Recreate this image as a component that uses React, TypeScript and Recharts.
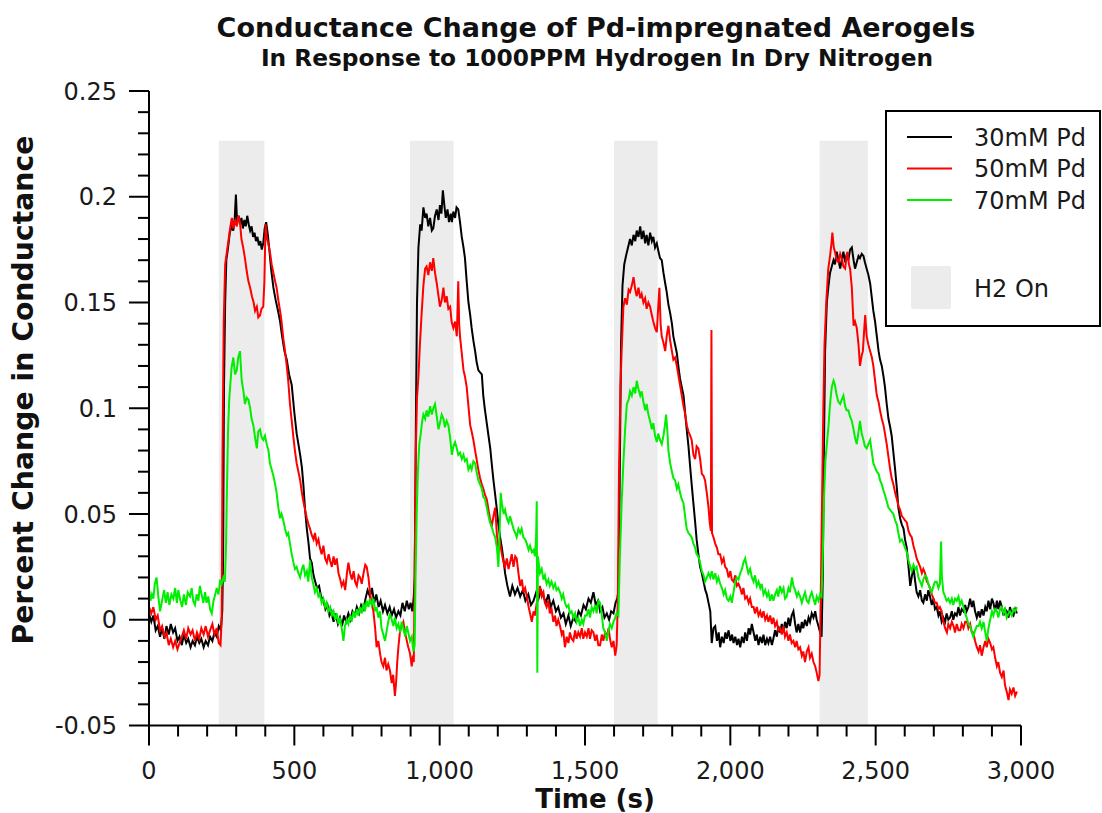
import { LineChart, Line, XAxis, YAxis, ReferenceArea } from "recharts";

const W = 1102;
const H = 813;
const FONT = '"DejaVu Sans", Verdana, sans-serif';

// H2 exposure windows (s)
const h2Start = [240, 898, 1600, 2307];
const h2End = [397, 1048, 1750, 2473];
const h2Top = 0.2265;

const xMajor = [0, 500, 1000, 1500, 2000, 2500, 3000];
const yMajor = [-0.05, 0, 0.05, 0.1, 0.15, 0.2, 0.25];
const xTicks = Array.from({ length: 31 }, (_, i) => i * 100);
const yTicks = Array.from({ length: 31 }, (_, i) => Math.round((-0.05 + i * 0.01) * 1000) / 1000);

// [time (s), percent change]
const pd30: [number, number][] = [
  [0, 0.003], [8, -0.001], [15, 0.002], [23, -0.005], [30, -0.003], [38, -0.008], [45, -0.004], [53, -0.009],
  [60, -0.003], [68, -0.007], [75, -0.002], [83, -0.006], [90, -0.004], [98, -0.01], [105, -0.008], [113, -0.012],
  [120, -0.007], [128, -0.011], [135, -0.009], [143, -0.013], [150, -0.01], [158, -0.012], [165, -0.008], [173, -0.011],
  [180, -0.009], [188, -0.013], [195, -0.01], [203, -0.012], [210, -0.008], [218, -0.01], [225, -0.006], [233, -0.008],
  [240, -0.003], [247, -0.005], [252, 0.004], [255, 0.03], [258, 0.11], [262, 0.15], [266, 0.17], [272, 0.176],
  [278, 0.183], [284, 0.186], [290, 0.184], [295, 0.19], [299, 0.201], [303, 0.188], [308, 0.191], [313, 0.187],
  [318, 0.19], [323, 0.185], [328, 0.189], [333, 0.186], [338, 0.191], [343, 0.187], [348, 0.184], [353, 0.186],
  [358, 0.181], [363, 0.183], [368, 0.179], [373, 0.181], [378, 0.177], [383, 0.179], [388, 0.175], [393, 0.178],
  [398, 0.185], [403, 0.188], [408, 0.183], [414, 0.175], [420, 0.166], [428, 0.157], [436, 0.151], [444, 0.146],
  [451, 0.141], [458, 0.134], [466, 0.127], [474, 0.123], [482, 0.116], [491, 0.111], [500, 0.098], [508, 0.088],
  [514, 0.083], [520, 0.078], [526, 0.072], [531, 0.064], [537, 0.052], [543, 0.043], [549, 0.036], [554, 0.029],
  [560, 0.027], [566, 0.021], [572, 0.018], [578, 0.015], [585, 0.016], [592, 0.011], [600, 0.009], [607, 0.005],
  [614, 0.007], [621, 0.002], [628, 0.004], [635, -0.001], [642, 0.003], [650, -0.002], [657, 0.001], [664, -0.003],
  [671, 0.002], [678, -0.001], [686, 0.003], [693, 0.0], [700, 0.004], [708, 0.002], [715, 0.006], [723, 0.003],
  [730, 0.007], [738, 0.005], [745, 0.01], [752, 0.014], [760, 0.011], [767, 0.015], [775, 0.008], [782, 0.012],
  [790, 0.006], [797, 0.009], [805, 0.004], [812, 0.007], [820, 0.003], [828, 0.006], [835, 0.002], [843, 0.005],
  [850, 0.001], [858, 0.004], [865, 0.002], [872, 0.008], [880, 0.004], [887, 0.009], [894, 0.005], [900, 0.008],
  [906, 0.004], [911, 0.011], [914, 0.02], [918, 0.09], [922, 0.15], [927, 0.176], [933, 0.187], [938, 0.184],
  [944, 0.195], [950, 0.19], [955, 0.192], [961, 0.186], [967, 0.19], [973, 0.184], [978, 0.185], [984, 0.191],
  [990, 0.194], [996, 0.189], [1001, 0.196], [1006, 0.192], [1011, 0.203], [1016, 0.196], [1021, 0.19], [1027, 0.194],
  [1032, 0.188], [1038, 0.192], [1042, 0.188], [1047, 0.193], [1053, 0.19], [1058, 0.195], [1064, 0.194], [1070, 0.188],
  [1076, 0.181], [1082, 0.176], [1087, 0.171], [1093, 0.16], [1099, 0.15], [1105, 0.144], [1110, 0.138], [1116, 0.132],
  [1122, 0.127], [1127, 0.122], [1133, 0.118], [1139, 0.117], [1145, 0.116], [1150, 0.106], [1156, 0.099], [1162, 0.093],
  [1168, 0.087], [1174, 0.081], [1179, 0.074], [1185, 0.066], [1191, 0.059], [1197, 0.052], [1202, 0.045], [1208, 0.039],
  [1214, 0.034], [1220, 0.028], [1225, 0.022], [1233, 0.016], [1242, 0.011], [1250, 0.016], [1259, 0.012], [1268, 0.015],
  [1277, 0.011], [1286, 0.014], [1295, 0.009], [1305, 0.012], [1314, 0.007], [1323, 0.009], [1332, 0.013], [1340, 0.01],
  [1348, 0.014], [1357, 0.011], [1365, 0.008], [1374, 0.012], [1382, 0.006], [1391, 0.009], [1400, 0.004], [1408, 0.006],
  [1417, 0.001], [1426, 0.003], [1434, -0.002], [1443, 0.002], [1451, -0.003], [1460, 0.001], [1469, -0.001], [1478, 0.004],
  [1486, 0.002], [1495, 0.007], [1503, 0.005], [1512, 0.01], [1520, 0.008], [1529, 0.013], [1537, 0.007], [1545, 0.009],
  [1552, 0.004], [1560, 0.006], [1567, 0.001], [1575, 0.003], [1583, 0.0], [1590, 0.004], [1598, 0.003], [1605, 0.008],
  [1611, 0.01], [1615, 0.014], [1619, 0.06], [1624, 0.13], [1629, 0.158], [1635, 0.168], [1641, 0.172], [1648, 0.176],
  [1655, 0.18], [1661, 0.177], [1667, 0.182], [1673, 0.179], [1678, 0.184], [1684, 0.181], [1690, 0.186], [1695, 0.18],
  [1701, 0.184], [1707, 0.178], [1712, 0.182], [1718, 0.177], [1724, 0.183], [1730, 0.179], [1735, 0.181], [1741, 0.176],
  [1747, 0.178], [1753, 0.174], [1758, 0.171], [1764, 0.17], [1770, 0.164], [1776, 0.159], [1781, 0.155], [1787, 0.149],
  [1793, 0.145], [1799, 0.14], [1804, 0.134], [1810, 0.13], [1816, 0.126], [1822, 0.119], [1827, 0.114], [1833, 0.11],
  [1839, 0.106], [1845, 0.097], [1850, 0.09], [1856, 0.082], [1862, 0.072], [1867, 0.064], [1873, 0.055], [1879, 0.046],
  [1884, 0.038], [1890, 0.031], [1896, 0.025], [1902, 0.022], [1908, 0.018], [1914, 0.014], [1919, 0.012], [1925, 0.008],
  [1931, 0.004], [1936, -0.011], [1942, -0.004], [1948, -0.003], [1954, -0.01], [1960, -0.006], [1965, -0.013], [1971, -0.008],
  [1977, -0.011], [1983, -0.006], [1988, -0.009], [1994, -0.005], [2000, -0.01], [2006, -0.007], [2011, -0.011], [2017, -0.008],
  [2023, -0.012], [2028, -0.009], [2034, -0.013], [2040, -0.008], [2046, -0.011], [2051, -0.006], [2057, -0.01], [2063, -0.004],
  [2068, -0.007], [2074, -0.002], [2080, -0.006], [2086, -0.01], [2091, -0.007], [2097, -0.012], [2103, -0.008], [2109, -0.011],
  [2114, -0.007], [2120, -0.012], [2126, -0.009], [2131, -0.011], [2137, -0.008], [2143, -0.012], [2148, -0.009], [2154, -0.005],
  [2160, -0.008], [2165, -0.003], [2171, -0.006], [2177, -0.002], [2183, -0.006], [2188, -0.001], [2194, -0.004], [2200, 0.001],
  [2205, -0.003], [2211, 0.002], [2217, 0.004], [2223, -0.002], [2228, -0.006], [2234, -0.002], [2240, -0.006], [2246, -0.001],
  [2251, -0.004], [2257, 0.0], [2263, -0.003], [2269, 0.001], [2274, -0.001], [2280, 0.003], [2286, 0.001], [2292, 0.004],
  [2297, 0.0], [2303, -0.003], [2309, -0.006], [2314, -0.008], [2318, 0.02], [2322, 0.08], [2326, 0.127], [2332, 0.15],
  [2337, 0.157], [2343, 0.164], [2349, 0.167], [2355, 0.17], [2360, 0.168], [2366, 0.174], [2372, 0.17], [2378, 0.166],
  [2383, 0.17], [2389, 0.174], [2395, 0.169], [2401, 0.173], [2406, 0.17], [2412, 0.175], [2418, 0.176], [2424, 0.17],
  [2429, 0.166], [2435, 0.169], [2441, 0.172], [2446, 0.171], [2452, 0.173], [2458, 0.172], [2463, 0.169], [2469, 0.166],
  [2475, 0.163], [2481, 0.159], [2487, 0.152], [2492, 0.146], [2498, 0.141], [2504, 0.134], [2510, 0.127], [2515, 0.123],
  [2521, 0.12], [2527, 0.115], [2532, 0.11], [2538, 0.102], [2544, 0.095], [2550, 0.091], [2555, 0.087], [2561, 0.079],
  [2567, 0.071], [2573, 0.062], [2578, 0.053], [2584, 0.048], [2590, 0.045], [2596, 0.043], [2601, 0.038], [2607, 0.034],
  [2613, 0.025], [2619, 0.016], [2624, 0.02], [2630, 0.025], [2636, 0.018], [2641, 0.013], [2647, 0.011], [2653, 0.014],
  [2659, 0.009], [2664, 0.008], [2670, 0.012], [2676, 0.009], [2681, 0.014], [2687, 0.011], [2693, 0.007], [2699, 0.01],
  [2704, 0.005], [2710, 0.006], [2716, 0.002], [2721, 0.004], [2727, -0.001], [2733, 0.001], [2739, -0.001], [2744, 0.003],
  [2750, 0.0], [2756, 0.001], [2762, 0.004], [2767, 0.0], [2773, 0.003], [2779, 0.002], [2785, 0.006], [2790, 0.002],
  [2796, 0.005], [2802, 0.004], [2808, 0.007], [2813, 0.004], [2819, 0.006], [2825, 0.01], [2831, 0.006], [2836, 0.009],
  [2842, 0.004], [2848, 0.001], [2854, 0.004], [2859, 0.001], [2865, 0.005], [2871, 0.002], [2877, 0.006], [2882, 0.004],
  [2888, 0.009], [2894, 0.005], [2900, 0.01], [2905, 0.008], [2911, 0.004], [2917, 0.009], [2922, 0.005], [2928, 0.009],
  [2934, 0.006], [2940, 0.002], [2945, 0.005], [2951, 0.004], [2957, 0.001], [2962, 0.006], [2968, 0.003], [2974, 0.002],
  [2980, 0.005], [2986, 0.003],
];

const pd50: [number, number][] = [
  [0, 0.006], [8, 0.003], [15, 0.006], [23, 0.0], [30, 0.002], [38, -0.005], [45, -0.003], [53, -0.008],
  [60, -0.006], [68, -0.012], [75, -0.009], [83, -0.013], [90, -0.01], [98, -0.014], [105, -0.011], [113, -0.008],
  [120, -0.005], [128, -0.009], [135, -0.004], [143, -0.007], [150, -0.005], [158, -0.01], [165, -0.006], [173, -0.009],
  [180, -0.004], [188, -0.007], [195, -0.003], [203, -0.008], [210, -0.005], [218, -0.002], [225, -0.007], [233, -0.004],
  [240, -0.011], [246, -0.012], [250, 0.0], [253, 0.08], [257, 0.14], [262, 0.168], [268, 0.174], [274, 0.18],
  [280, 0.186], [285, 0.19], [290, 0.185], [296, 0.189], [302, 0.186], [307, 0.191], [313, 0.188], [318, 0.18],
  [324, 0.176], [330, 0.171], [336, 0.165], [342, 0.16], [348, 0.157], [354, 0.153], [360, 0.15], [365, 0.146],
  [371, 0.148], [376, 0.143], [382, 0.144], [387, 0.147], [393, 0.148], [397, 0.16], [401, 0.187], [405, 0.181],
  [410, 0.178], [416, 0.174], [422, 0.168], [428, 0.164], [434, 0.16], [439, 0.157], [445, 0.151], [451, 0.146],
  [456, 0.141], [462, 0.133], [468, 0.127], [474, 0.12], [479, 0.113], [485, 0.102], [491, 0.094], [497, 0.086],
  [502, 0.08], [508, 0.074], [514, 0.07], [520, 0.066], [526, 0.06], [531, 0.056], [537, 0.052], [543, 0.048],
  [549, 0.045], [554, 0.043], [560, 0.04], [566, 0.038], [571, 0.041], [577, 0.036], [583, 0.038], [588, 0.034],
  [594, 0.031], [600, 0.035], [606, 0.029], [612, 0.027], [618, 0.031], [623, 0.028], [629, 0.025], [635, 0.03],
  [640, 0.026], [646, 0.029], [652, 0.022], [658, 0.019], [663, 0.016], [669, 0.018], [675, 0.014], [681, 0.022],
  [686, 0.027], [692, 0.022], [698, 0.019], [704, 0.023], [709, 0.018], [715, 0.016], [721, 0.021], [726, 0.02],
  [732, 0.017], [738, 0.022], [744, 0.026], [749, 0.025], [755, 0.02], [761, 0.012], [766, 0.008], [772, 0.004],
  [778, -0.004], [783, -0.013], [789, -0.01], [795, -0.016], [800, -0.02], [806, -0.022], [812, -0.018], [817, -0.024],
  [823, -0.021], [829, -0.024], [835, -0.03], [840, -0.026], [846, -0.036], [850, -0.03], [854, -0.02], [858, -0.013],
  [863, -0.006], [869, -0.003], [875, -0.001], [881, -0.006], [887, -0.01], [892, -0.013], [898, -0.016], [904, -0.022],
  [908, -0.017], [911, -0.02], [914, 0.02], [918, 0.08], [922, 0.105], [927, 0.115], [932, 0.13], [938, 0.145],
  [944, 0.158], [950, 0.166], [955, 0.167], [961, 0.163], [967, 0.169], [973, 0.165], [978, 0.171], [984, 0.164],
  [990, 0.159], [996, 0.153], [1001, 0.148], [1007, 0.151], [1013, 0.157], [1018, 0.15], [1024, 0.153], [1030, 0.147],
  [1036, 0.148], [1041, 0.141], [1047, 0.138], [1053, 0.141], [1059, 0.134], [1064, 0.16], [1067, 0.14], [1070, 0.134],
  [1076, 0.126], [1082, 0.118], [1087, 0.115], [1093, 0.11], [1099, 0.101], [1105, 0.092], [1110, 0.089], [1116, 0.085],
  [1122, 0.08], [1127, 0.076], [1133, 0.071], [1139, 0.067], [1145, 0.064], [1150, 0.062], [1156, 0.059], [1162, 0.057],
  [1168, 0.052], [1173, 0.048], [1179, 0.044], [1185, 0.049], [1191, 0.053], [1197, 0.04], [1202, 0.034], [1208, 0.036],
  [1214, 0.031], [1220, 0.027], [1225, 0.025], [1231, 0.029], [1237, 0.024], [1242, 0.027], [1248, 0.031], [1254, 0.025],
  [1260, 0.03], [1265, 0.029], [1271, 0.022], [1277, 0.016], [1283, 0.019], [1288, 0.013], [1294, 0.015], [1300, 0.011],
  [1306, 0.006], [1311, 0.003], [1317, -0.001], [1323, 0.004], [1328, 0.002], [1334, 0.008], [1340, 0.012], [1345, 0.016],
  [1351, 0.011], [1357, 0.013], [1362, 0.008], [1368, 0.006], [1374, 0.009], [1379, 0.003], [1385, 0.005], [1391, -0.001],
  [1397, 0.002], [1402, -0.003], [1408, 0.0], [1414, -0.003], [1420, -0.007], [1425, -0.005], [1431, -0.013], [1437, -0.008],
  [1443, -0.011], [1448, -0.006], [1454, -0.009], [1460, -0.01], [1466, -0.005], [1471, -0.009], [1477, -0.006], [1483, -0.008],
  [1489, -0.004], [1494, -0.009], [1500, -0.006], [1506, -0.008], [1512, -0.004], [1517, -0.009], [1523, -0.005], [1529, -0.006],
  [1535, -0.01], [1540, -0.007], [1546, -0.012], [1552, -0.012], [1558, -0.007], [1563, -0.01], [1569, -0.006], [1575, -0.008],
  [1581, -0.004], [1586, -0.009], [1592, -0.013], [1598, -0.01], [1604, -0.017], [1609, -0.012], [1613, 0.01], [1617, 0.07],
  [1622, 0.11], [1626, 0.127], [1632, 0.148], [1638, 0.152], [1644, 0.149], [1650, 0.156], [1655, 0.155], [1661, 0.158],
  [1667, 0.162], [1673, 0.156], [1678, 0.153], [1684, 0.157], [1690, 0.152], [1695, 0.154], [1701, 0.15], [1707, 0.152],
  [1712, 0.147], [1718, 0.15], [1724, 0.148], [1730, 0.144], [1735, 0.141], [1741, 0.138], [1747, 0.136], [1752, 0.148],
  [1756, 0.157], [1760, 0.14], [1764, 0.134], [1770, 0.131], [1776, 0.127], [1781, 0.134], [1787, 0.139], [1793, 0.132],
  [1799, 0.127], [1804, 0.123], [1810, 0.124], [1816, 0.12], [1822, 0.115], [1827, 0.111], [1833, 0.106], [1839, 0.101],
  [1845, 0.097], [1850, 0.092], [1856, 0.089], [1862, 0.087], [1867, 0.085], [1873, 0.078], [1879, 0.076], [1884, 0.082],
  [1890, 0.081], [1896, 0.076], [1902, 0.069], [1908, 0.068], [1913, 0.066], [1919, 0.06], [1925, 0.053], [1929, 0.046],
  [1933, 0.042], [1935, 0.137], [1937, 0.041], [1942, 0.039], [1948, 0.036], [1954, 0.034], [1959, 0.031], [1965, 0.031],
  [1971, 0.027], [1977, 0.029], [1982, 0.025], [1988, 0.024], [1994, 0.02], [2000, 0.023], [2005, 0.019], [2011, 0.018],
  [2017, 0.021], [2022, 0.016], [2028, 0.017], [2034, 0.015], [2040, 0.012], [2045, 0.015], [2051, 0.01], [2057, 0.011],
  [2063, 0.008], [2068, 0.01], [2074, 0.006], [2080, 0.006], [2085, 0.003], [2091, 0.006], [2097, 0.002], [2103, 0.004],
  [2108, 0.001], [2114, 0.004], [2120, 0.0], [2126, 0.002], [2131, -0.001], [2137, 0.002], [2143, -0.002], [2148, 0.001],
  [2154, -0.003], [2160, -0.001], [2165, -0.005], [2171, -0.004], [2177, -0.007], [2183, -0.003], [2188, -0.008], [2194, -0.006],
  [2200, -0.01], [2205, -0.007], [2211, -0.011], [2217, -0.01], [2223, -0.013], [2228, -0.01], [2234, -0.014], [2240, -0.013],
  [2246, -0.017], [2251, -0.015], [2257, -0.02], [2263, -0.015], [2269, -0.013], [2274, -0.018], [2280, -0.016], [2286, -0.02],
  [2292, -0.022], [2297, -0.025], [2303, -0.029], [2307, -0.026], [2311, 0.01], [2315, 0.05], [2320, 0.1], [2324, 0.13],
  [2330, 0.15], [2337, 0.166], [2343, 0.172], [2348, 0.178], [2351, 0.183], [2356, 0.176], [2360, 0.174], [2366, 0.17],
  [2372, 0.169], [2378, 0.173], [2383, 0.171], [2389, 0.167], [2395, 0.166], [2400, 0.172], [2403, 0.174], [2408, 0.168],
  [2412, 0.166], [2418, 0.157], [2421, 0.148], [2424, 0.139], [2429, 0.141], [2435, 0.138], [2441, 0.13], [2446, 0.12],
  [2452, 0.125], [2456, 0.127], [2460, 0.136], [2464, 0.144], [2469, 0.134], [2475, 0.13], [2481, 0.127], [2487, 0.124],
  [2492, 0.12], [2498, 0.113], [2504, 0.106], [2510, 0.103], [2515, 0.099], [2521, 0.095], [2527, 0.092], [2532, 0.088],
  [2538, 0.083], [2544, 0.077], [2550, 0.071], [2555, 0.067], [2561, 0.064], [2567, 0.06], [2573, 0.057], [2578, 0.054],
  [2584, 0.052], [2590, 0.049], [2596, 0.048], [2601, 0.047], [2607, 0.046], [2613, 0.042], [2619, 0.04], [2624, 0.039],
  [2630, 0.035], [2636, 0.032], [2641, 0.029], [2647, 0.027], [2653, 0.025], [2659, 0.022], [2664, 0.024], [2670, 0.022],
  [2676, 0.018], [2681, 0.017], [2687, 0.015], [2693, 0.012], [2699, 0.01], [2704, 0.008], [2710, 0.008], [2716, 0.005],
  [2721, 0.006], [2727, 0.004], [2733, -0.001], [2739, -0.004], [2745, -0.006], [2750, -0.002], [2756, -0.004], [2762, -0.001],
  [2768, -0.003], [2773, -0.006], [2779, -0.002], [2785, -0.005], [2791, -0.005], [2796, -0.002], [2802, -0.004], [2808, -0.001],
  [2814, -0.001], [2819, -0.004], [2825, -0.002], [2831, -0.006], [2836, -0.006], [2842, -0.01], [2848, -0.013], [2854, -0.015],
  [2859, -0.012], [2865, -0.017], [2871, -0.013], [2877, -0.01], [2882, -0.013], [2888, -0.009], [2894, -0.011], [2900, -0.014],
  [2905, -0.013], [2911, -0.018], [2917, -0.022], [2922, -0.02], [2928, -0.025], [2934, -0.027], [2940, -0.024], [2945, -0.031],
  [2951, -0.034], [2957, -0.038], [2962, -0.033], [2968, -0.035], [2974, -0.032], [2980, -0.036], [2986, -0.034],
];

const pd70: [number, number][] = [
  [0, 0.015], [5, 0.009], [10, 0.012], [15, 0.01], [20, 0.017], [26, 0.02], [32, 0.011], [38, 0.004],
  [45, 0.009], [52, 0.014], [58, 0.008], [64, 0.013], [70, 0.007], [77, 0.012], [84, 0.01], [90, 0.015],
  [96, 0.008], [101, 0.014], [108, 0.009], [114, 0.006], [120, 0.012], [127, 0.007], [133, 0.013], [141, 0.011],
  [147, 0.015], [152, 0.009], [158, 0.007], [164, 0.012], [170, 0.009], [175, 0.016], [181, 0.012], [187, 0.008],
  [193, 0.013], [198, 0.008], [204, 0.011], [210, 0.005], [216, 0.003], [222, 0.009], [228, 0.012], [233, 0.015],
  [239, 0.012], [245, 0.019], [250, 0.017], [256, 0.02], [261, 0.018], [265, 0.035], [268, 0.06], [272, 0.09],
  [276, 0.104], [279, 0.11], [284, 0.119], [290, 0.124], [296, 0.116], [302, 0.118], [307, 0.124], [313, 0.127],
  [319, 0.113], [325, 0.108], [330, 0.102], [336, 0.105], [342, 0.104], [348, 0.1], [353, 0.095], [359, 0.092],
  [365, 0.086], [371, 0.081], [376, 0.089], [382, 0.09], [388, 0.086], [393, 0.085], [399, 0.087], [405, 0.083],
  [411, 0.08], [416, 0.074], [422, 0.071], [428, 0.068], [434, 0.064], [439, 0.06], [445, 0.053], [451, 0.048],
  [456, 0.05], [462, 0.047], [468, 0.043], [474, 0.04], [479, 0.041], [485, 0.036], [491, 0.031], [497, 0.027],
  [502, 0.024], [508, 0.025], [514, 0.022], [520, 0.02], [526, 0.024], [531, 0.026], [537, 0.021], [543, 0.023],
  [548, 0.018], [554, 0.028], [560, 0.02], [565, 0.017], [571, 0.013], [577, 0.015], [583, 0.011], [588, 0.012],
  [594, 0.008], [600, 0.01], [606, 0.006], [611, 0.008], [617, 0.004], [623, 0.006], [629, 0.002], [635, 0.004],
  [640, 0.0], [646, 0.003], [652, -0.002], [657, 0.001], [663, -0.004], [669, -0.01], [674, -0.003], [680, 0.0],
  [686, -0.002], [692, 0.002], [697, -0.001], [703, 0.004], [709, 0.001], [715, 0.005], [720, 0.002], [726, 0.006],
  [732, 0.003], [738, 0.008], [743, 0.004], [749, 0.009], [755, 0.006], [760, 0.01], [766, 0.007], [772, 0.01],
  [778, 0.004], [783, 0.006], [789, 0.001], [795, 0.004], [800, -0.004], [806, -0.007], [812, -0.01], [818, -0.005],
  [823, -0.001], [829, 0.003], [835, 0.0], [841, -0.003], [846, 0.001], [852, -0.004], [858, -0.002], [864, -0.006],
  [869, -0.001], [875, -0.004], [881, -0.008], [887, -0.003], [892, -0.006], [898, -0.01], [904, -0.008], [910, -0.015],
  [914, -0.012], [917, 0.02], [921, 0.05], [925, 0.07], [930, 0.083], [935, 0.088], [940, 0.094], [944, 0.097],
  [950, 0.095], [955, 0.099], [961, 0.096], [967, 0.101], [973, 0.097], [978, 0.1], [984, 0.102], [990, 0.096],
  [996, 0.09], [1001, 0.093], [1007, 0.097], [1013, 0.095], [1018, 0.091], [1024, 0.094], [1030, 0.092], [1036, 0.086],
  [1042, 0.078], [1047, 0.082], [1053, 0.084], [1059, 0.081], [1064, 0.078], [1070, 0.079], [1076, 0.076], [1082, 0.078],
  [1087, 0.075], [1093, 0.076], [1099, 0.071], [1105, 0.073], [1110, 0.071], [1116, 0.075], [1122, 0.074], [1127, 0.07],
  [1133, 0.066], [1139, 0.064], [1145, 0.062], [1150, 0.058], [1156, 0.057], [1162, 0.053], [1168, 0.049], [1173, 0.046],
  [1179, 0.044], [1185, 0.041], [1191, 0.039], [1197, 0.034], [1202, 0.025], [1206, 0.04], [1210, 0.06], [1214, 0.055],
  [1220, 0.05], [1225, 0.052], [1231, 0.048], [1237, 0.046], [1242, 0.049], [1248, 0.046], [1254, 0.043], [1260, 0.041],
  [1265, 0.039], [1271, 0.043], [1277, 0.041], [1282, 0.043], [1288, 0.039], [1294, 0.038], [1300, 0.036], [1306, 0.033],
  [1311, 0.035], [1317, 0.032], [1323, 0.033], [1328, 0.03], [1332, 0.04], [1334, 0.056], [1336, -0.025], [1338, 0.03],
  [1345, 0.022], [1351, 0.024], [1357, 0.019], [1362, 0.021], [1368, 0.017], [1374, 0.019], [1379, 0.016], [1385, 0.018],
  [1391, 0.015], [1397, 0.017], [1402, 0.014], [1408, 0.015], [1414, 0.013], [1420, 0.01], [1425, 0.012], [1431, 0.008],
  [1437, 0.006], [1443, 0.007], [1448, 0.003], [1454, 0.004], [1460, 0.001], [1466, 0.003], [1471, -0.001], [1477, 0.001],
  [1483, -0.003], [1489, 0.0], [1494, -0.002], [1500, 0.002], [1506, 0.002], [1512, 0.005], [1517, 0.001], [1523, 0.006],
  [1529, 0.004], [1535, 0.007], [1540, 0.003], [1546, 0.009], [1552, 0.008], [1558, 0.002], [1563, -0.004], [1569, -0.006],
  [1575, -0.01], [1581, -0.005], [1586, -0.002], [1592, -0.004], [1598, -0.001], [1604, 0.001], [1609, 0.003], [1615, 0.002],
  [1620, 0.03], [1626, 0.055], [1632, 0.074], [1638, 0.09], [1644, 0.102], [1650, 0.104], [1655, 0.108], [1661, 0.106],
  [1667, 0.11], [1673, 0.107], [1678, 0.113], [1684, 0.109], [1690, 0.106], [1695, 0.108], [1701, 0.103], [1707, 0.099],
  [1712, 0.102], [1718, 0.097], [1724, 0.094], [1730, 0.09], [1735, 0.093], [1741, 0.087], [1747, 0.084], [1752, 0.088],
  [1758, 0.085], [1764, 0.083], [1770, 0.087], [1775, 0.092], [1779, 0.097], [1783, 0.09], [1787, 0.08], [1793, 0.074],
  [1799, 0.07], [1804, 0.067], [1810, 0.066], [1816, 0.062], [1821, 0.064], [1827, 0.06], [1833, 0.057], [1839, 0.055],
  [1845, 0.048], [1850, 0.043], [1856, 0.041], [1862, 0.04], [1867, 0.039], [1873, 0.036], [1879, 0.034], [1884, 0.031],
  [1890, 0.03], [1896, 0.027], [1902, 0.023], [1908, 0.021], [1913, 0.018], [1919, 0.02], [1925, 0.022], [1931, 0.02],
  [1936, 0.023], [1942, 0.019], [1948, 0.022], [1954, 0.018], [1959, 0.02], [1965, 0.017], [1971, 0.015], [1977, 0.012],
  [1982, 0.014], [1988, 0.01], [1994, 0.009], [2000, 0.011], [2005, 0.008], [2011, 0.013], [2017, 0.018], [2022, 0.02],
  [2028, 0.019], [2034, 0.022], [2040, 0.024], [2045, 0.027], [2051, 0.029], [2057, 0.025], [2062, 0.022], [2068, 0.024],
  [2074, 0.02], [2080, 0.018], [2085, 0.021], [2091, 0.016], [2097, 0.018], [2103, 0.015], [2108, 0.017], [2114, 0.012],
  [2120, 0.014], [2126, 0.011], [2131, 0.013], [2137, 0.009], [2143, 0.012], [2148, 0.009], [2154, 0.012], [2160, 0.014],
  [2165, 0.011], [2171, 0.016], [2177, 0.013], [2183, 0.015], [2188, 0.01], [2194, 0.011], [2200, 0.015], [2205, 0.013],
  [2212, 0.02], [2217, 0.016], [2223, 0.014], [2229, 0.011], [2234, 0.013], [2240, 0.011], [2246, 0.008], [2252, 0.011],
  [2257, 0.013], [2263, 0.009], [2269, 0.008], [2274, 0.011], [2280, 0.013], [2286, 0.01], [2292, 0.007], [2297, 0.011],
  [2303, 0.009], [2309, 0.012], [2314, 0.011], [2318, 0.03], [2322, 0.057], [2327, 0.075], [2332, 0.083], [2338, 0.092],
  [2343, 0.102], [2349, 0.11], [2355, 0.113], [2360, 0.111], [2366, 0.106], [2372, 0.103], [2378, 0.102], [2383, 0.104],
  [2389, 0.106], [2395, 0.101], [2400, 0.099], [2406, 0.099], [2412, 0.096], [2418, 0.094], [2424, 0.09], [2429, 0.086],
  [2435, 0.083], [2441, 0.089], [2446, 0.094], [2452, 0.088], [2458, 0.085], [2463, 0.082], [2469, 0.081], [2475, 0.083],
  [2481, 0.085], [2487, 0.079], [2492, 0.074], [2498, 0.072], [2504, 0.07], [2510, 0.069], [2515, 0.066], [2521, 0.064],
  [2527, 0.061], [2532, 0.059], [2538, 0.056], [2544, 0.053], [2550, 0.052], [2555, 0.051], [2561, 0.05], [2567, 0.047],
  [2573, 0.045], [2578, 0.041], [2584, 0.037], [2590, 0.038], [2596, 0.036], [2601, 0.034], [2607, 0.032], [2613, 0.028],
  [2619, 0.025], [2624, 0.023], [2630, 0.026], [2636, 0.024], [2641, 0.025], [2647, 0.02], [2653, 0.018], [2659, 0.016],
  [2664, 0.019], [2670, 0.021], [2676, 0.02], [2681, 0.017], [2687, 0.015], [2693, 0.013], [2699, 0.016], [2704, 0.018],
  [2710, 0.018], [2716, 0.015], [2721, 0.017], [2725, 0.037], [2728, 0.02], [2733, 0.013], [2739, 0.011], [2744, 0.009],
  [2750, 0.01], [2756, 0.008], [2762, 0.01], [2767, 0.007], [2773, 0.01], [2779, 0.009], [2785, 0.011], [2790, 0.007],
  [2796, 0.009], [2802, 0.006], [2808, 0.003], [2813, 0.001], [2819, -0.002], [2825, -0.003], [2831, -0.006], [2836, -0.008],
  [2842, -0.005], [2848, -0.003], [2854, -0.003], [2859, -0.001], [2865, -0.004], [2871, -0.001], [2877, -0.006], [2882, -0.01],
  [2888, -0.004], [2894, 0.0], [2900, 0.004], [2905, 0.002], [2911, 0.005], [2917, 0.004], [2922, 0.001], [2928, 0.005],
  [2934, 0.006], [2940, 0.003], [2945, 0.005], [2951, 0.001], [2957, 0.003], [2962, 0.004], [2968, 0.002], [2974, 0.005],
  [2980, 0.004], [2986, 0.006],
];

const series = [
  { name: "30mM Pd", color: "#000000", points: pd30 },
  { name: "50mM Pd", color: "#ff0000", points: pd50 },
  { name: "70mM Pd", color: "#00ee00", points: pd70 },
];

const isMajor = (v: number, step: number) => Math.abs(v / step - Math.round(v / step)) < 1e-6;

const XTick = (props: any) => {
  const { x, y, payload } = props;
  const v = payload.value as number;
  const major = xMajor.includes(v);
  return (
    <g>
      <line x1={x} x2={x} y1={y} y2={y + (major ? 20 : 11)} stroke="#000" strokeWidth={2} />
      {major && (
        <text x={x} y={y + 53} textAnchor="middle" fontFamily={FONT} fontSize={24} fill="#1a1a1a">
          {v.toLocaleString("en-US")}
        </text>
      )}
    </g>
  );
};

const YTick = (props: any) => {
  const { x, y, payload } = props;
  const v = payload.value as number;
  const major = yMajor.some((m) => Math.abs(m - v) < 1e-6) || isMajor(v, 0.05);
  return (
    <g>
      <line x1={x - (major ? 20 : 11)} x2={x} y1={y} y2={y} stroke="#000" strokeWidth={2} />
      {major && (
        <text x={x - 32} y={y + 8.5} textAnchor="end" fontFamily={FONT} fontSize={24} fill="#1a1a1a">
          {String(Number(v.toFixed(2)))}
        </text>
      )}
    </g>
  );
};

export default function App() {
  return (
    <div style={{ position: "absolute", left: 0, top: 0, width: W, height: H, background: "#fff" }}>
      <LineChart width={W} height={H} margin={{ top: 91, right: 81, bottom: 86.5, left: 148 }}>
        <XAxis
          type="number"
          dataKey="t"
          domain={[0, 3000]}
          ticks={xTicks}
          interval={0}
          height={1}
          tickSize={0}
          tickMargin={0}
          tickLine={false}
          tick={<XTick />}
          axisLine={{ stroke: "#000", strokeWidth: 2 }}
          allowDataOverflow
        />
        <YAxis
          type="number"
          domain={[-0.05, 0.25]}
          ticks={yTicks}
          interval={0}
          width={1}
          tickSize={0}
          tickMargin={0}
          tickLine={false}
          tick={<YTick />}
          axisLine={{ stroke: "#000", strokeWidth: 2 }}
          allowDataOverflow
        />
        {h2Start.map((s, i) => (
          <ReferenceArea
            key={`h2-${i}`}
            x1={s}
            x2={h2End[i]}
            y1={-0.05}
            y2={h2Top}
            fill="#ececec"
            fillOpacity={1}
            stroke="none"
          />
        ))}
        {series.map((s) => (
          <Line
            key={s.name}
            name={s.name}
            data={s.points.map(([t, v]) => ({ t, v }))}
            dataKey="v"
            type="linear"
            stroke={s.color}
            strokeWidth={2}
            dot={false}
            activeDot={false}
            isAnimationActive={false}
          />
        ))}
      </LineChart>

      <svg width={W} height={H} style={{ position: "absolute", left: 0, top: 0, pointerEvents: "none" }}>
        <text x={596} y={37} textAnchor="middle" fontFamily={FONT} fontWeight="bold" fontSize={27} fill="#111">
          Conductance Change of Pd-impregnated Aerogels
        </text>
        <text x={597} y={66} textAnchor="middle" fontFamily={FONT} fontWeight="bold" fontSize={23.3} fill="#111">
          In Response to 1000PPM Hydrogen In Dry Nitrogen
        </text>
        <text x={595} y={808} textAnchor="middle" fontFamily={FONT} fontWeight="bold" fontSize={26} fill="#111">
          Time (s)
        </text>
        <text
          transform="translate(33,390) rotate(-90)"
          textAnchor="middle"
          fontFamily={FONT}
          fontWeight="bold"
          fontSize={28.3}
          fill="#111"
        >
          Percent Change in Conductance
        </text>

        <rect x={886} y={111} width={214} height={215} fill="#fff" stroke="#000" strokeWidth={2} />
        {series.map((s, i) => (
          <g key={s.name}>
            <line x1={907} x2={952} y1={137 + i * 31.5} y2={137 + i * 31.5} stroke={s.color} strokeWidth={2} />
            <text x={974} y={145.5 + i * 31.5} fontFamily={FONT} fontSize={24} fill="#1a1a1a">
              {s.name}
            </text>
          </g>
        ))}
        <rect x={911} y={266} width={40} height={43} rx={2} fill="#ececec" />
        <text x={974} y={296.5} fontFamily={FONT} fontSize={24} fill="#1a1a1a">
          H2 On
        </text>
      </svg>
    </div>
  );
}
